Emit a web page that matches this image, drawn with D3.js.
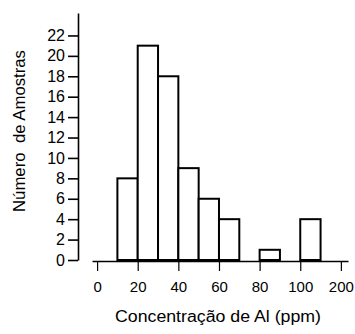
<!DOCTYPE html>
<html>
<head>
<meta charset="utf-8">
<script src="https://cdn.jsdelivr.net/npm/d3@7"></script>
<style>
  body { margin: 0; background: #fff; }
  svg text { font-family: "Liberation Sans", Arial, sans-serif; fill: #000; }
</style>
</head>
<body>
<div id="chart"></div>
<script>
// histogram bins (lower edge, ppm) and counts
const binStarts = [0, 10, 20, 30, 40, 50, 60, 70, 80, 90, 100];
const counts = [0, 8, 21, 18, 9, 6, 4, 0, 1, 0, 4];
const binWidth = 10;
const xTickValues = [0, 20, 40, 60, 80, 100, 120];
const xTickLabels = ['0', '20', '40', '60', '80', '100', '200'];
const yTickValues = [0, 2, 4, 6, 8, 10, 12, 14, 16, 18, 20, 22];
const xTitle = 'Concentração de Al (ppm)';
const yTitle = 'Número  de Amostras';

const width = 355;
const height = 334;

const svg = d3.select('#chart').append('svg')
  .attr('width', width)
  .attr('height', height);

const x = d3.scaleLinear().domain([-2.5, 123.5]).range([92, 348]);
const y = d3.scaleLinear().domain([0, 24.2]).range([260, 13]);

// bars
svg.append('g')
  .selectAll('rect')
  .data(binStarts)
  .join('rect')
  .attr('x', (d) => x(d))
  .attr('y', (d, i) => y(counts[i]))
  .attr('width', (d) => x(d + binWidth) - x(d))
  .attr('height', (d, i) => y(0) - y(counts[i]))
  .attr('fill', '#fff')
  .attr('stroke', '#000')
  .attr('stroke-width', 2);

// x axis
const xAxis = svg.append('g')
  .attr('transform', 'translate(0,261)')
  .call(d3.axisBottom(x)
    .tickValues(xTickValues)
    .tickFormat((d, i) => xTickLabels[i])
    .tickSize(10)
    .tickSizeOuter(0)
    .tickPadding(10));
xAxis.select('.domain').attr('stroke-width', 1.6);
xAxis.selectAll('.tick line').attr('stroke-width', 1.2);
xAxis.selectAll('.tick text')
  .attr('font-size', 15)
  .attr('dy', '0.71em');

// y axis
const yAxis = svg.append('g')
  .attr('transform', 'translate(78,0)')
  .call(d3.axisLeft(y)
    .tickValues(yTickValues)
    .tickSize(10)
    .tickSizeOuter(0)
    .tickPadding(3));
yAxis.select('.domain').attr('stroke-width', 1.6);
yAxis.selectAll('.tick line').attr('stroke-width', 1.6);
yAxis.selectAll('.tick text')
  .attr('font-size', 16);

// titles
svg.append('text')
  .attr('x', 218)
  .attr('y', 322)
  .attr('text-anchor', 'middle')
  .attr('font-size', 16)
  .attr('textLength', 206)
  .attr('lengthAdjust', 'spacingAndGlyphs')
  .text(xTitle);

svg.append('text')
  .attr('transform', 'translate(25,131) rotate(-90)')
  .attr('text-anchor', 'middle')
  .attr('font-size', 16)
  .attr('textLength', 162)
  .attr('lengthAdjust', 'spacingAndGlyphs')
  .style('white-space', 'pre')
  .text(yTitle);
</script>
</body>
</html>
